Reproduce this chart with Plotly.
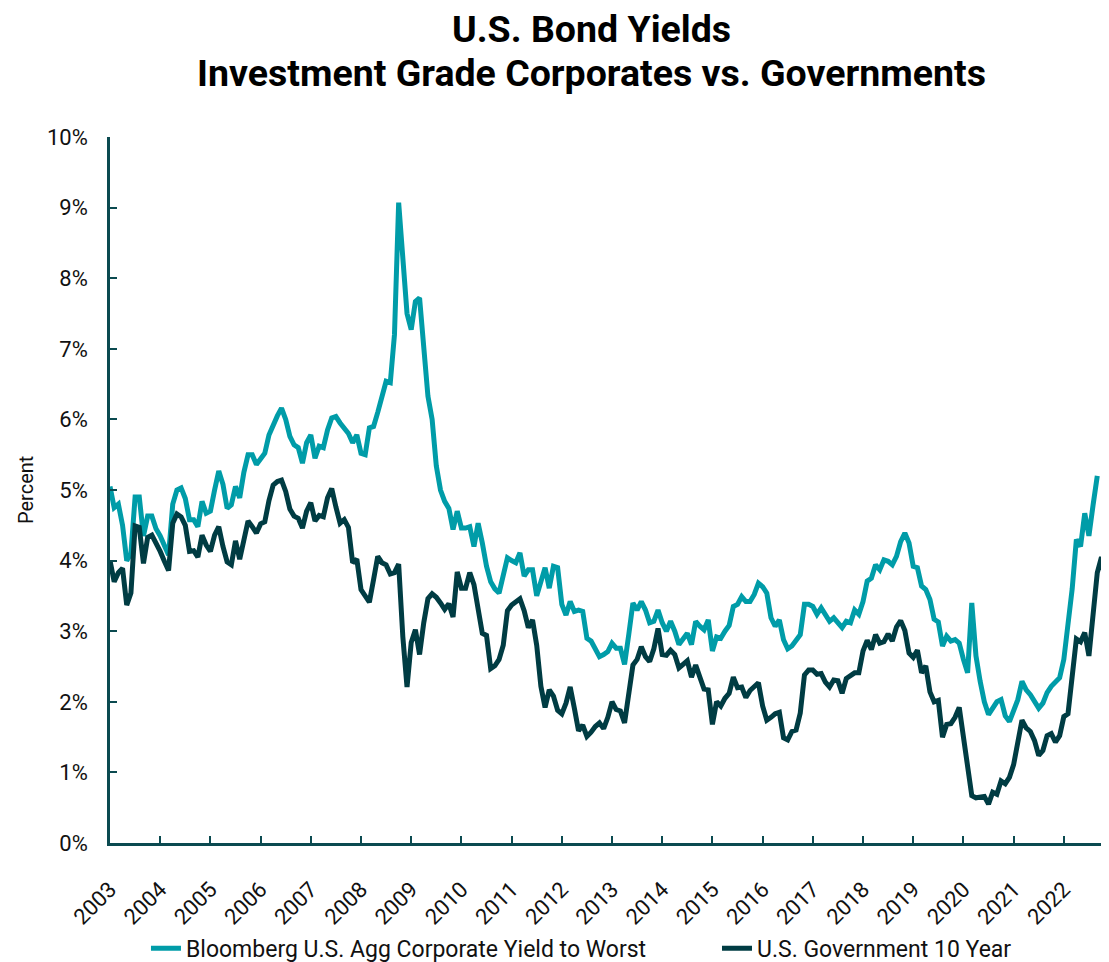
import plotly.graph_objects as go

# Monthly values, Jan 2003 onward
corp_yield = [
    # 2003
    5.05, 4.75, 4.80, 4.50, 4.00, 4.10, 4.90, 4.90, 4.35, 4.63, 4.63, 4.45,
    # 2004
    4.35, 4.20, 4.08, 4.80, 5.00, 5.03, 4.88, 4.58, 4.58, 4.48, 4.84, 4.67,
    # 2005
    4.70, 5.00, 5.27, 5.08, 4.74, 4.79, 5.05, 4.89, 5.25, 5.50, 5.50, 5.36,
    # 2006
    5.45, 5.52, 5.78, 5.93, 6.05, 6.16, 6.00, 5.76, 5.64, 5.60, 5.38, 5.67,
    # 2007
    5.78, 5.45, 5.62, 5.60, 5.85, 6.02, 6.04, 5.95, 5.88, 5.80, 5.67, 5.78,
    # 2008
    5.52, 5.50, 5.88, 5.90, 6.10, 6.30, 6.54, 6.52, 7.20, 9.07, 8.20, 7.50,
    # 2009
    7.27, 7.67, 7.72, 7.00, 6.33, 6.00, 5.34, 5.00, 4.84, 4.74, 4.44, 4.70,
    # 2010
    4.46, 4.46, 4.48, 4.20, 4.53, 4.25, 3.92, 3.70, 3.60, 3.54, 3.80, 4.04,
    # 2011
    4.00, 3.97, 4.11, 3.78, 3.87, 3.87, 3.50, 3.70, 3.90, 3.61, 3.92, 3.90,
    # 2012
    3.38, 3.23, 3.42, 3.28, 3.30, 3.28, 2.90, 2.86, 2.74, 2.64, 2.67, 2.71,
    # 2013
    2.83, 2.76, 2.76, 2.53, 2.95, 3.40, 3.30, 3.42, 3.30, 3.12, 3.14, 3.30,
    # 2014
    3.12, 3.00, 3.14, 3.00, 2.81, 2.90, 2.97, 2.81, 3.14, 3.07, 3.02, 3.16,
    # 2015
    2.72, 2.92, 2.90, 3.00, 3.08, 3.35, 3.38, 3.49, 3.42, 3.42, 3.52, 3.68,
    # 2016
    3.63, 3.54, 3.19, 3.07, 3.16, 2.88, 2.75, 2.79, 2.86, 2.95, 3.38, 3.38,
    # 2017
    3.35, 3.24, 3.33, 3.24, 3.14, 3.19, 3.12, 3.05, 3.14, 3.12, 3.30, 3.24,
    # 2018
    3.42, 3.71, 3.75, 3.94, 3.87, 4.01, 3.99, 3.94, 4.06, 4.27, 4.39, 4.25,
    # 2019
    3.92, 3.90, 3.64, 3.59, 3.45, 3.17, 3.13, 2.79, 2.93, 2.86, 2.88, 2.83,
    # 2020
    2.60, 2.41, 3.40, 2.65, 2.29, 2.00, 1.82, 1.91, 2.00, 2.03, 1.80, 1.72,
    # 2021
    1.86, 2.03, 2.29, 2.17, 2.10, 2.00, 1.91, 1.98, 2.13, 2.22, 2.29, 2.34,
    # 2022 (Jan-Sep)
    2.60, 3.05, 3.60, 4.30, 4.20, 4.67, 4.35, 4.79, 5.20,
]

gov_10y = [
    # 2003
    4.00, 3.70, 3.83, 3.89, 3.37, 3.54, 4.49, 4.47, 3.96, 4.33, 4.36, 4.25,
    # 2004
    4.13, 3.99, 3.86, 4.53, 4.66, 4.62, 4.50, 4.13, 4.14, 4.05, 4.36, 4.22,
    # 2005
    4.13, 4.36, 4.48, 4.20, 3.98, 3.94, 4.28, 4.02, 4.33, 4.56, 4.48, 4.39,
    # 2006
    4.52, 4.55, 4.85, 5.07, 5.12, 5.14, 4.98, 4.73, 4.63, 4.60, 4.46, 4.70,
    # 2007
    4.82, 4.56, 4.64, 4.62, 4.89, 5.02, 4.76, 4.53, 4.58, 4.47, 3.97, 4.02,
    # 2008
    3.59, 3.51, 3.41, 3.73, 4.06, 3.97, 3.94, 3.81, 3.83, 3.95, 2.92, 2.21,
    # 2009
    2.84, 3.02, 2.67, 3.12, 3.46, 3.53, 3.48, 3.40, 3.31, 3.39, 3.20, 3.84,
    # 2010
    3.61, 3.61, 3.83, 3.66, 3.31, 2.97, 2.94, 2.47, 2.51, 2.60, 2.80, 3.29,
    # 2011
    3.37, 3.42, 3.46, 3.29, 3.05, 3.16, 2.80, 2.22, 1.92, 2.17, 2.08, 1.88,
    # 2012
    1.83, 1.98, 2.21, 1.91, 1.59, 1.67, 1.51, 1.57, 1.65, 1.70, 1.62, 1.78,
    # 2013
    2.00, 1.89, 1.87, 1.70, 2.16, 2.52, 2.60, 2.78, 2.64, 2.57, 2.75, 3.04,
    # 2014
    2.67, 2.66, 2.73, 2.67, 2.48, 2.53, 2.58, 2.35, 2.52, 2.35, 2.18, 2.17,
    # 2015
    1.68, 2.00, 1.94, 2.05, 2.12, 2.35, 2.20, 2.21, 2.06, 2.16, 2.21, 2.27,
    # 2016
    1.94, 1.74, 1.78, 1.83, 1.85, 1.49, 1.46, 1.58, 1.60, 1.84, 2.38, 2.45,
    # 2017
    2.45, 2.39, 2.40, 2.28, 2.21, 2.31, 2.30, 2.12, 2.33, 2.38, 2.41, 2.41,
    # 2018
    2.72, 2.87, 2.74, 2.95, 2.83, 2.85, 2.96, 2.86, 3.06, 3.15, 3.01, 2.69,
    # 2019
    2.63, 2.73, 2.41, 2.51, 2.14, 2.00, 2.02, 1.50, 1.68, 1.69, 1.78, 1.92,
    # 2020
    1.51, 1.13, 0.67, 0.64, 0.65, 0.66, 0.55, 0.72, 0.69, 0.88, 0.84, 0.93,
    # 2021
    1.11, 1.44, 1.74, 1.63, 1.58, 1.45, 1.24, 1.31, 1.52, 1.55, 1.43, 1.52,
    # 2022 (Jan-Nov)
    1.79, 1.83, 2.32, 2.89, 2.85, 2.98, 2.65, 3.19, 3.83, 4.05, 3.65,
]

start_year = 2003
year_ticks = list(range(2003, 2023))
y_ticks = list(range(0, 11))
y_tick_labels = [f"{v}%" for v in y_ticks]
title_lines = ["U.S. Bond Yields", "Investment Grade Corporates vs. Governments"]

corp_x = [start_year + i / 12 for i in range(len(corp_yield))]
gov_x = [start_year + i / 12 for i in range(len(gov_10y))]

TEAL = "#009CA8"
DARK = "#003C43"
AXIS = "#0B4A50"
FONT = "Roboto, Arial, sans-serif"

fig = go.Figure()
fig.add_trace(go.Scatter(
    x=corp_x, y=corp_yield, mode="lines",
    name="Bloomberg U.S. Agg Corporate Yield to Worst",
    line=dict(color=TEAL, width=5), legend="legend",
))
fig.add_trace(go.Scatter(
    x=gov_x, y=gov_10y, mode="lines",
    name="U.S. Government 10 Year",
    line=dict(color=DARK, width=5), legend="legend2",
))

leg_common = dict(
    orientation="h", yanchor="middle", y=-0.149,
    font=dict(family=FONT, size=23, color="#111111"),
    bgcolor="rgba(0,0,0,0)", xanchor="left",
)

PLOT_H = 706
fig.update_layout(
    width=1101, height=954,
    paper_bgcolor="white", plot_bgcolor="white",
    margin=dict(l=102, r=0, t=129, b=954 - 129 - PLOT_H, autoexpand=False),
    font=dict(family=FONT, color="#111111", size=18),
    showlegend=True,
    legend=dict(x=0.036, **leg_common),
    legend2=dict(x=0.6076, **leg_common),
    annotations=[
        dict(text=f"<b>{title_lines[0]}</b>", xref="paper", yref="paper",
             x=0.482, y=(843 - 29) / PLOT_H, xanchor="center", yanchor="middle",
             showarrow=False, font=dict(family=FONT, size=37.5, color="#000000")),
        dict(text=f"<b>{title_lines[1]}</b>", xref="paper", yref="paper",
             x=0.482, y=(843 - 73) / PLOT_H, xanchor="center", yanchor="middle",
             showarrow=False, font=dict(family=FONT, size=37.5, color="#000000")),
        dict(text="Percent", xref="paper", yref="paper",
             x=(26 - 110) / 999, y=0.5, xanchor="center", yanchor="middle",
             textangle=-90, showarrow=False,
             font=dict(family=FONT, size=20, color="#111111")),
    ],
)

fig.update_xaxes(
    range=[start_year, start_year + 19.9],
    tickmode="array", tickvals=year_ticks, ticktext=[str(y) for y in year_ticks],
    tickangle=-45, ticks="inside", ticklen=7, tickwidth=1.5, tickcolor=AXIS,
    showline=True, linecolor=AXIS, linewidth=2.5,
    showgrid=False, zeroline=False, automargin=False,
    ticklabelstandoff=22,
    tickfont=dict(family=FONT, size=22, color="#111111"),
)
fig.update_yaxes(
    range=[0, 10],
    tickmode="array", tickvals=y_ticks, ticktext=y_tick_labels,
    ticks="inside", ticklen=7, tickwidth=1.5, tickcolor=AXIS,
    showline=True, linecolor=AXIS, linewidth=2.5,
    showgrid=False, zeroline=False, automargin=False,
    ticklabelstandoff=15,
    tickfont=dict(family=FONT, size=22, color="#111111"),
)

fig.write_html("out.html")
